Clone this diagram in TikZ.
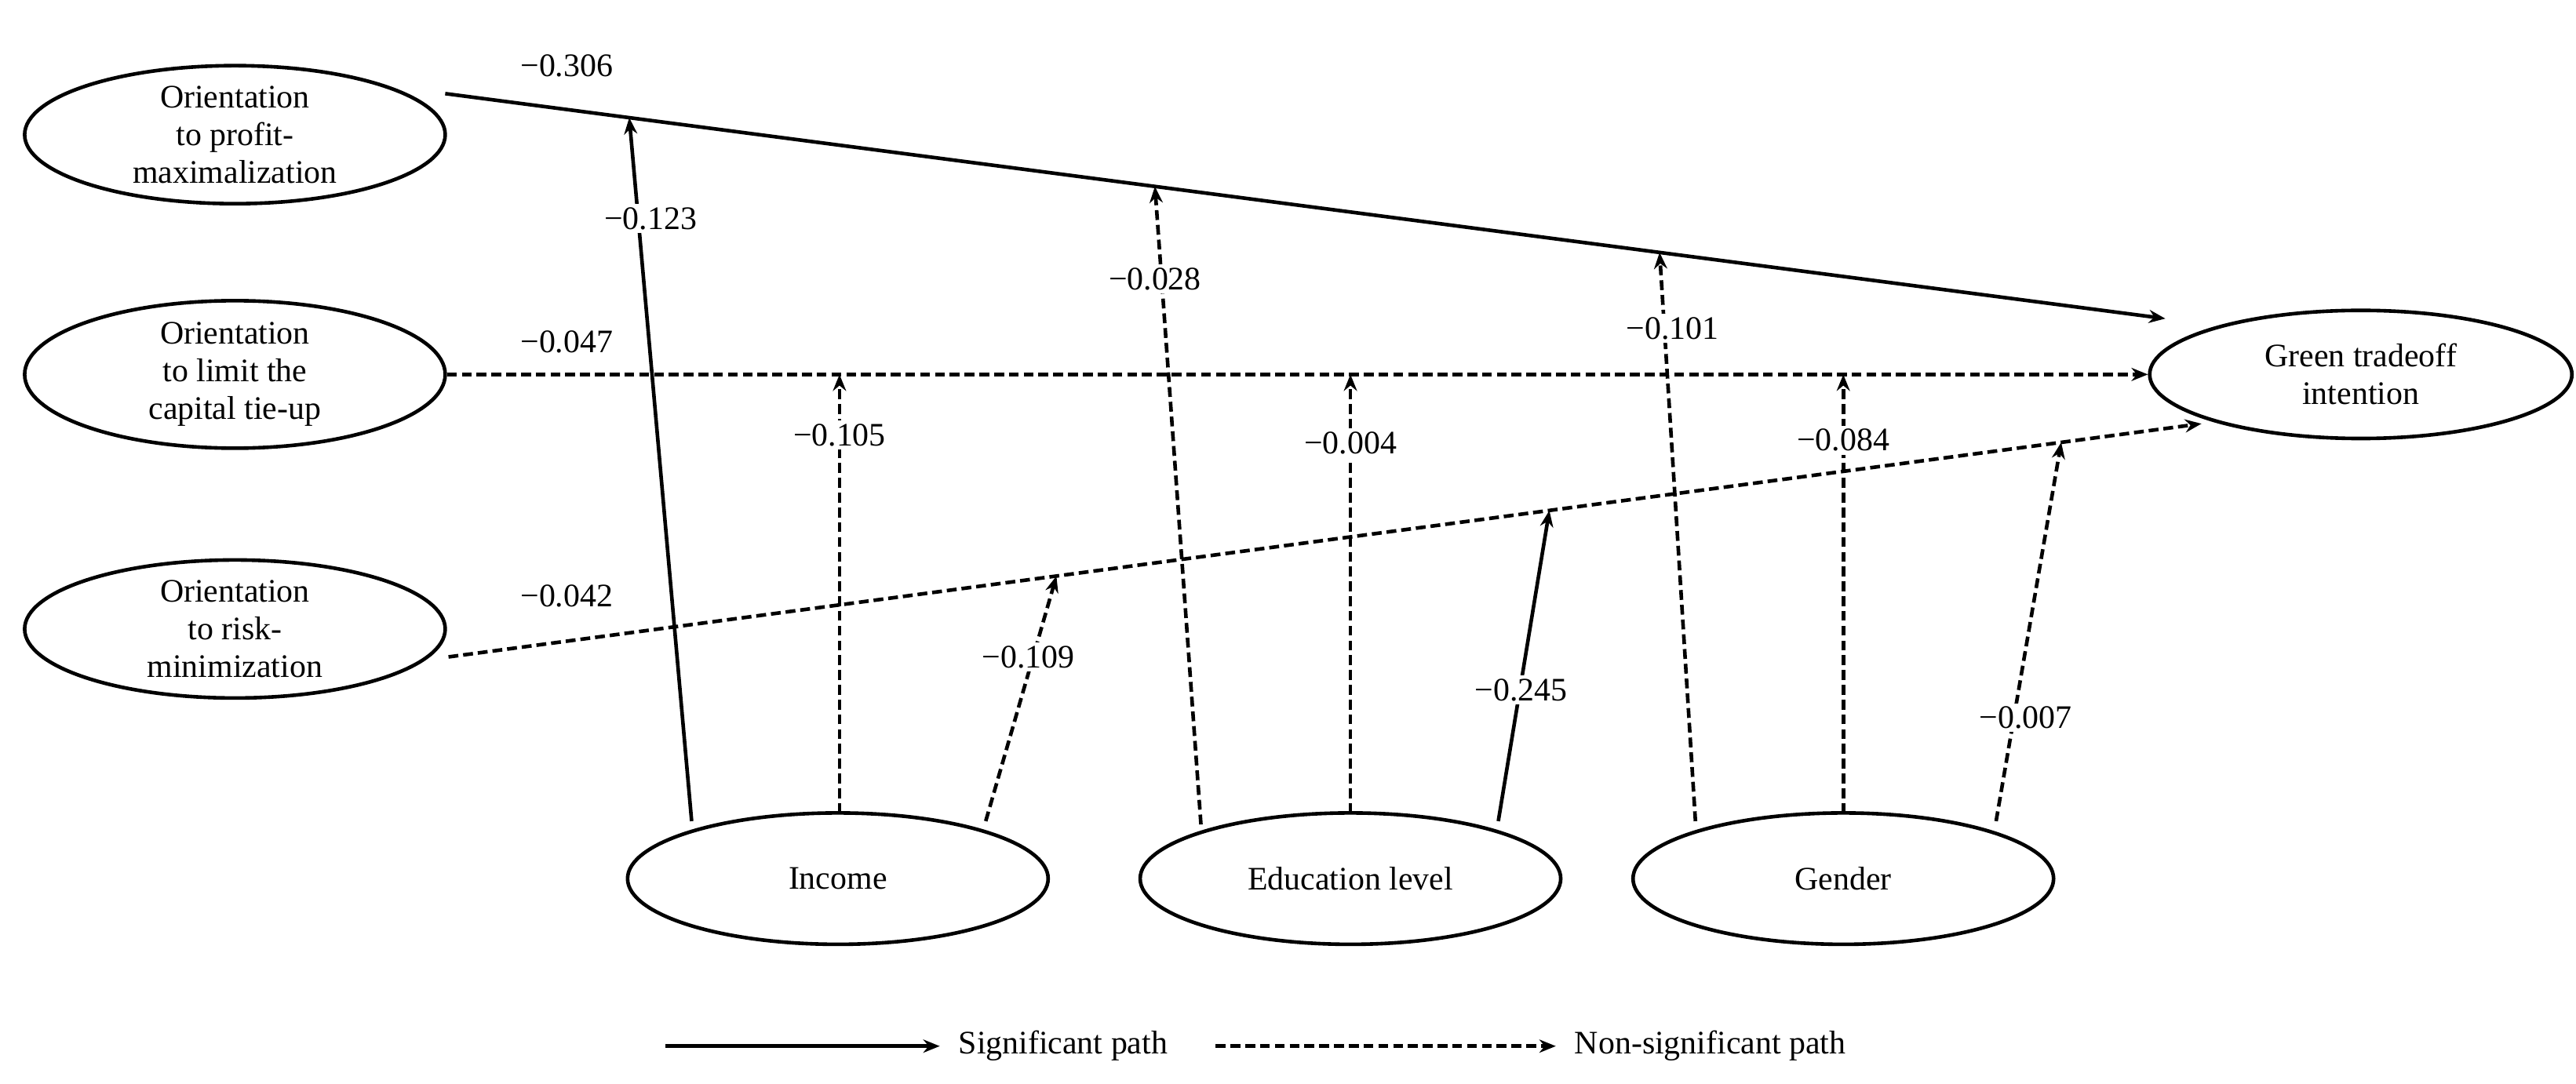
\documentclass[tikz,border=0pt]{standalone}
\usepackage{fontspec}
\setmainfont{Liberation Serif}
\usetikzlibrary{arrows.meta,calc,shapes.geometric}
\begin{document}
\begin{tikzpicture}[x=1pt,y=-1pt,
  every node/.style={font=\fontsize{20}{23}\selectfont},
  ell/.style={draw,line width=2.2pt,ellipse,minimum width=256pt,minimum height=80pt,align=center,inner sep=0pt},
  sig/.style={line width=2.2pt,-{Stealth[length=10pt,width=8pt]}},
  ns/.style={line width=2.2pt,dash pattern=on 6pt off 3pt,-{Stealth[length=10pt,width=8pt]}},
  lbl/.style={fill=white,inner sep=2pt}]
\useasboundingbox (0,0) rectangle (1568,660);
\node[ell] (pm) at (143,82) {Orientation\\to profit-\\maximalization};
\node[ell] (ct) at (143,228) {Orientation\\to limit the\\capital tie-up};
\node[ell] (rm) at (143,383) {Orientation\\to risk-\\minimization};
\node[ell,minimum width=257pt,minimum height=78pt] (gt) at (1437,228) {Green tradeoff\\intention};
\node[ell] (inc) at (510,535) {Income};
\node[ell] (edu) at (822,535) {Education level};
\node[ell] (gen) at (1122,535) {Gender};
% main paths
\coordinate (pmA) at (271,57); \coordinate (pmB) at (1318,194);
\coordinate (rmA) at (273,400); \coordinate (rmB) at (1340,258);
\draw[sig] (pmA) -- (pmB);
\draw[ns] (ct.east) -- (gt.west);
\draw[ns] (rmA) -- (rmB);
\coordinate (p1) at ($(pmA)!0.107!(pmB)$);
\coordinate (p2) at ($(pmA)!0.4126!(pmB)$);
\coordinate (p3) at ($(pmA)!0.706!(pmB)$);
\coordinate (r1) at ($(rmA)!0.3468!(rmB)$);
\coordinate (r2) at ($(rmA)!0.628!(rmB)$);
\coordinate (r3) at ($(rmA)!0.92!(rmB)$);
\coordinate (c1) at (511,228); \coordinate (c2) at (822,228); \coordinate (c3) at (1122,228);
% moderator paths
\coordinate (i1) at (421,500); \coordinate (i2) at (511,495); \coordinate (i3) at (600,500);
\coordinate (e1) at (731,502); \coordinate (e2) at (822,495); \coordinate (e3) at (912,500);
\coordinate (g1) at (1032,500); \coordinate (g2) at (1122,495); \coordinate (g3) at (1215,500);
\draw[sig] (i1) -- (p1);
\draw[ns] (i2) -- (c1);
\draw[ns] (i3) -- (r1);
\draw[ns] (e1) -- (p2);
\draw[ns] (e2) -- (c2);
\draw[sig] (e3) -- (r2);
\draw[ns] (g1) -- (p3);
\draw[ns] (g2) -- (c3);
\draw[ns] (g3) -- (r3);
% labels
\node at (345,40) {−0.306};
\node at (345,208) {−0.047};
\node at (345,363) {−0.042};
\node[lbl] at (396,133) {−0.123};
\node[lbl] at (511,265) {−0.105};
\node[lbl] at (626,400) {−0.109};
\node[lbl] at (703,170) {−0.028};
\node[lbl] at (822,270) {−0.004};
\node[lbl] at (926,420) {−0.245};
\node[lbl] at (1018,200) {−0.101};
\node[lbl] at (1122,268) {−0.084};
\node[lbl] at (1233,437) {−0.007};
% legend
\coordinate (l1a) at (405,637); \coordinate (l1b) at (572,637);
\coordinate (l2a) at (740,637); \coordinate (l2b) at (947,637);
\draw[sig] (l1a) -- (l1b);
\node[anchor=west] (ls) at (580,637) {Significant path};
\draw[ns] (l2a) -- (l2b);
\node[anchor=west] (ln) at (955,637) {Non-significant path};
\end{tikzpicture}
\end{document}
